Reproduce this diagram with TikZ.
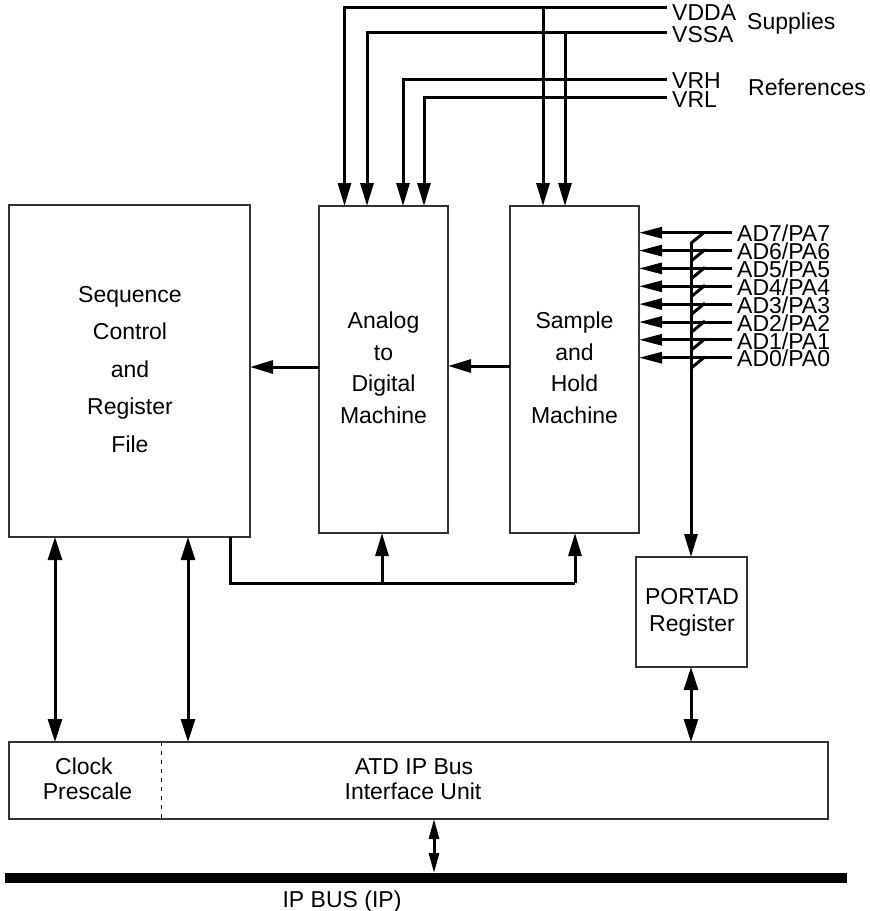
\documentclass[tikz,border=0pt]{standalone}
\usepackage{fontspec}
\setmainfont{Liberation Sans}
\usetikzlibrary{arrows.meta}
\begin{document}
\begin{tikzpicture}[x=1pt,y=-1pt,
  box/.style={draw=black!80, line width=1.3pt, inner sep=0pt, outer sep=0pt},
  wire/.style={line width=3pt},
  arr/.style={wire, -{Triangle[length=23pt,width=13pt]}},
  darr/.style={wire, {Triangle[length=23pt,width=14pt]}-{Triangle[length=23pt,width=14pt]}},
  sdarr/.style={wire, {Triangle[length=20pt,width=10pt]}-{Triangle[length=20pt,width=10pt]}},
  pinarr/.style={wire, -{Triangle[length=23pt,width=11pt]}},
  txt/.style={inner sep=0pt, text height=16.5pt, text depth=0pt, font=\fontsize{23pt}{27pt}\selectfont},
]
\useasboundingbox (0,0) rectangle (870,911);

% boxes
\node[box, minimum width=241pt, minimum height=332pt] (seq) at (129.5,371) {};
\node[box, minimum width=129pt, minimum height=327pt] (adc) at (383.5,369.5) {};
\node[box, minimum width=129pt, minimum height=327pt] (sh) at (574.5,369.5) {};
\node[box, minimum width=111pt, minimum height=110pt] (portad) at (691.5,612) {};
\node[box, minimum width=819pt, minimum height=77pt] (busbox) at (418.5,780.5) {};
\node[fill=black, inner sep=0pt, outer sep=0pt, minimum width=842pt, minimum height=10pt] (ipbus) at (426,878) {};

% box texts
\node[txt] (t1) at (130,294) {Sequence};
\node[txt] (t2) at (130,331.5) {Control};
\node[txt] (t3) at (130,369) {and};
\node[txt] (t4) at (130,406.5) {Register};
\node[txt] (t5) at (130,444) {File};

\node[txt] (a1) at (383.5,320.5) {Analog};
\node[txt] (a2) at (383.5,352) {to};
\node[txt] (a3) at (383.5,383.5) {Digital};
\node[txt] (a4) at (383.5,415) {Machine};

\node[txt] (s1) at (574.5,320.5) {Sample};
\node[txt] (s2) at (574.5,352) {and};
\node[txt] (s3) at (574.5,383.5) {Hold};
\node[txt] (s4) at (574.5,415) {Machine};

\node[txt] (p1) at (692,596) {PORTAD};
\node[txt] (p2) at (692,623) {Register};

\node[txt] (c1) at (84,766) {Clock};
\node[txt] (c2) at (87.5,791) {Prescale};
\node[txt] (b1) at (414,766) {ATD IP Bus};
\node[txt] (b2) at (413,791) {Interface Unit};
\node[txt] (ipl) at (342,899) {IP BUS (IP)};

% dashed divider
\coordinate (dv) at (161,780);
\draw[line width=1pt, dash pattern=on 4pt off 5pt] (dv |- busbox.north) -- (dv |- busbox.south);

% supplies and references
\coordinate (vdda) at (667,7.5);
\coordinate (vssa) at (667,32);
\coordinate (vrh) at (667,79);
\coordinate (vrl) at (667,97.5);
\draw[arr] (vdda) -| ([xshift=25.5pt]adc.north west);
\draw[arr] (vssa) -| ([xshift=48pt]adc.north west);
\draw[arr] (vrh) -| ([xshift=84pt]adc.north west);
\draw[arr] (vrl) -| ([xshift=105pt]adc.north west);
\coordinate (j1) at (543,7.5);
\coordinate (j2) at (565,32);
\draw[arr] (j1) -- (j1 |- sh.north);
\draw[arr] (j2) -- (j2 |- sh.north);
\node[txt, anchor=west] (lvdda) at (672,12) {VDDA};
\node[txt, anchor=west] (lvssa) at (672,34) {VSSA};
\node[txt, anchor=west] (lvrh) at (672,80) {VRH};
\node[txt, anchor=west] (lvrl) at (672,99) {VRL};
\node[txt, anchor=west] (lsup) at (747,21) {Supplies};
\node[txt, anchor=west] (lref) at (748,87) {References};

% analog inputs
\foreach \k/\yy in {0/357.7, 1/339.8, 2/322.0, 3/304.1, 4/286.3, 5/268.4, 6/250.6, 7/232.7} {
  \coordinate (pin\k) at (732,\yy);
  \draw[pinarr] (pin\k) -- (pin\k -| sh.east);
  \draw[wire] (691,{\yy+10.5}) -- (705,{\yy-1});
  \node[txt, anchor=west] (lab\k) at (737,{\yy+1}) {AD\k/PA\k};
}
\coordinate (ptop) at (691,242);
\draw[arr] (ptop) -- (ptop |- portad.north);

% internal data flow
\coordinate (y1) at (0,366);
\coordinate (y2) at (0,367);
\draw[arr] (sh.west |- y1) -- (adc.east |- y1);
\draw[arr] (adc.west |- y2) -- (seq.east |- y2);

\coordinate (lb) at (230,583);
\coordinate (lm) at (382,583);
\coordinate (lr) at (575,583);
\draw[wire] (lb |- seq.south) -- (lb) -- (lr);
\draw[arr] (lm) -- (lm |- adc.south);
\draw[arr] (lr) -- (lr |- sh.south);

% bus connections
\coordinate (x1) at (55,0);
\coordinate (x2) at (188,0);
\coordinate (x3) at (691,0);
\coordinate (x4) at (434,0);
\draw[darr] (x1 |- seq.south) -- (x1 |- busbox.north);
\draw[darr] (x2 |- seq.south) -- (x2 |- busbox.north);
\draw[darr] (x3 |- portad.south) -- (x3 |- busbox.north);
\draw[sdarr] (x4 |- busbox.south) -- (x4 |- ipbus.north);
\end{tikzpicture}
\end{document}
